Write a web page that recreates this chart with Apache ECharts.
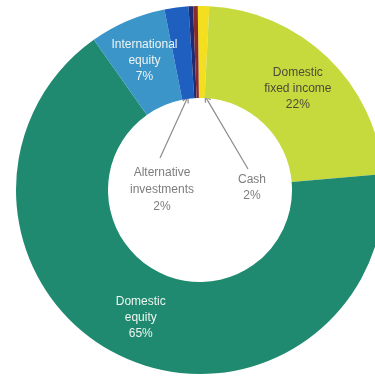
<!DOCTYPE html>
<html>
<head>
<meta charset="utf-8">
<script src="https://cdn.jsdelivr.net/npm/echarts@6/dist/echarts.min.js"></script>
<style>
html,body{margin:0;padding:0;background:#fff;}
#c{width:375px;height:376px;}
</style>
</head>
<body>
<div id="c"></div>
<script>
// ---- data (clockwise from top) ----
var categories = ['Cash', 'Domestic fixed income', 'Domestic equity', 'International equity', 'Alternative investments', 'Other A', 'Other B'];
var values = [1.0, 22.8, 66.6, 6.7, 2.1, 0.4, 0.4];
var labelLines = [['Cash', '2%'], ['Domestic', 'fixed income', '22%'], ['Domestic', 'equity', '65%'], ['International', 'equity', '7%'], ['Alternative', 'investments', '2%'], [], []];
var colors = ['#f3df1f', '#c7da3d', '#1f8a70', '#3b95c9', '#1f5fbf', '#1f2a70', '#8a2b2b'];

var CX = 200, CY = 190, RI = 92, RO = 184;
var START = 90.7; // echarts startAngle (deg, counter-clockwise from 3 o'clock)

var chart = echarts.init(document.getElementById('c'), null, {renderer: 'canvas'});

var insideIdx = {1: '#4b4b38', 2: '#eef4f0', 3: '#eef4f4'};
var data = categories.map(function (n, i) {
  var d = {name: n, value: values[i], itemStyle: {color: colors[i]}};
  if (insideIdx[i]) {
    d.label = {show: true, position: 'inside', color: insideIdx[i],
      formatter: labelLines[i].join('\n')};
  } else {
    d.label = {show: false};
  }
  return d;
});

// slice mid-angle (clockwise from top, degrees) computed from data
var total = values.reduce(function (a, b) { return a + b; }, 0);
function midAngle(idx) {
  var acc = 0;
  for (var i = 0; i < idx; i++) acc += values[i];
  acc += values[idx] / 2;
  return (90 - START) + acc / total * 360;
}
function polar(a, r) {
  var t = a * Math.PI / 180;
  return [CX + r * Math.sin(t), CY - r * Math.cos(t)];
}
function arrow(from, to, color) {
  var dx = to[0] - from[0], dy = to[1] - from[1];
  var L = Math.sqrt(dx * dx + dy * dy); dx /= L; dy /= L;
  var s = 6, w = 3;
  var b = [to[0] - dx * s, to[1] - dy * s];
  var p1 = [b[0] - dy * w, b[1] + dx * w];
  var p2 = [b[0] + dy * w, b[1] - dx * w];
  return [
    {type: 'polyline', shape: {points: [from, to]}, style: {stroke: color, lineWidth: 1.2}, silent: true},
    {type: 'polyline', shape: {points: [p1, to, p2]}, style: {stroke: color, lineWidth: 1.2, fill: null}, silent: true}
  ];
}

var grey = '#7d7d7d';
var altTip = polar(midAngle(4), RI + 2);
var cashTip = polar(midAngle(0) + 2, RI + 2);
var graphics = [].concat(
  arrow([160, 158], altTip, '#8c8c8c'),
  arrow([248, 169], cashTip, '#8c8c8c'),
  [
    {type: 'text', silent: true, style: {text: labelLines[4].join('\n'), x: 162, y: 190, align: 'center', verticalAlign: 'middle',
      fontSize: 12, fontFamily: 'Liberation Sans, Arial, sans-serif', fill: grey, lineHeight: 17}},
    {type: 'text', silent: true, style: {text: labelLines[0].join('\n'), x: 252, y: 188, align: 'center', verticalAlign: 'middle',
      fontSize: 12, fontFamily: 'Liberation Sans, Arial, sans-serif', fill: grey, lineHeight: 16}}
  ]
);

chart.setOption({
  backgroundColor: '#ffffff',
  animation: false,
  series: [{
    type: 'pie',
    center: [CX, CY],
    radius: [RI, RO],
    startAngle: START,
    clockwise: true,
    avoidLabelOverlap: false,
    minAngle: 0,
    label: {fontSize: 12, fontFamily: 'Liberation Sans, Arial, sans-serif', lineHeight: 16},
    labelLine: {show: false},
    itemStyle: {borderWidth: 0},
    emphasis: {disabled: true},
    data: data
  }],
  graphic: graphics
});
</script>
</body>
</html>
